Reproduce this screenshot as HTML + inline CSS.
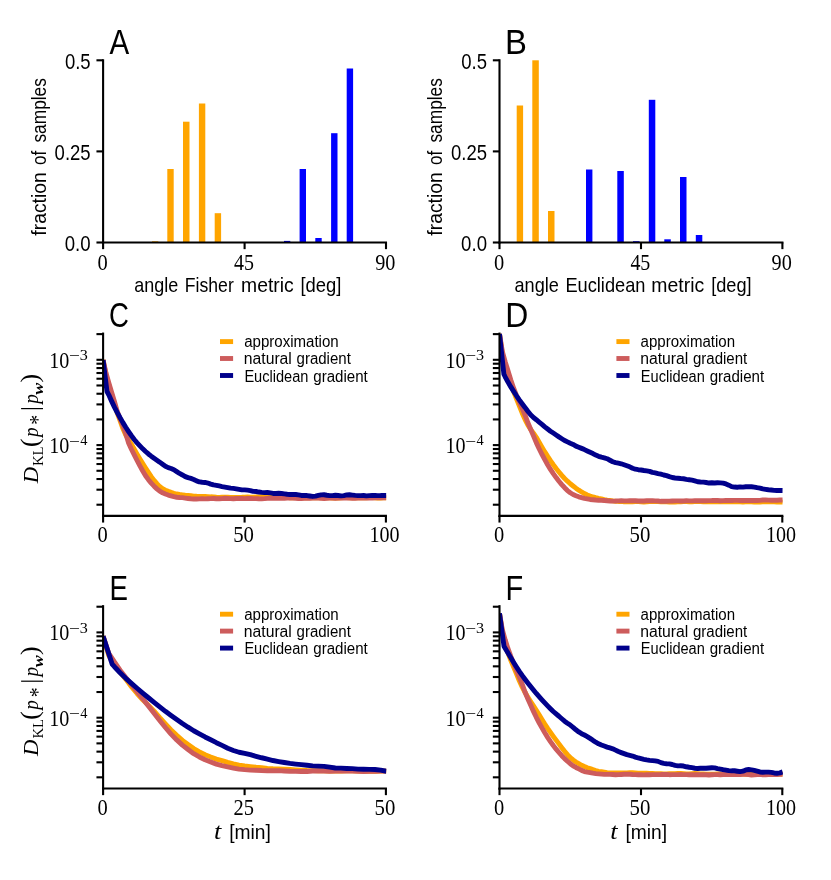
<!DOCTYPE html>
<html><head><meta charset="utf-8"><title>figure</title>
<style>
html,body{margin:0;padding:0;background:#fff;}
body{width:831px;height:880px;overflow:hidden;font-family:"Liberation Sans",sans-serif;}
svg{display:block;will-change:transform;}
text{fill:#000;}
</style></head>
<body>
<svg width="831" height="880" viewBox="0 0 831 880">
<rect x="0" y="0" width="831" height="880" fill="#fff"/>
<rect x="152" y="241.3" width="6.3" height="1.2" fill="#FFA500"/>
<rect x="167.3" y="169" width="6.4" height="73.5" fill="#FFA500"/>
<rect x="183" y="121.7" width="6.5" height="120.8" fill="#FFA500"/>
<rect x="198.9" y="103.5" width="6.4" height="139" fill="#FFA500"/>
<rect x="214.7" y="213.2" width="6.4" height="29.3" fill="#FFA500"/>
<rect x="284" y="240.9" width="6.3" height="1.6" fill="#0000FF"/>
<rect x="299.6" y="169" width="6.4" height="73.5" fill="#0000FF"/>
<rect x="315.3" y="238" width="6.4" height="4.5" fill="#0000FF"/>
<rect x="331.1" y="133.2" width="6.4" height="109.3" fill="#0000FF"/>
<rect x="346.7" y="68.5" width="6.4" height="174" fill="#0000FF"/>
<line x1="103.1" y1="59.25" x2="103.1" y2="243.55" stroke="#000" stroke-width="2.1" stroke-linecap="butt"/>
<line x1="102.05" y1="242.5" x2="387.05" y2="242.5" stroke="#000" stroke-width="2.1" stroke-linecap="butt"/>
<line x1="96.45" y1="242.5" x2="103.1" y2="242.5" stroke="#000" stroke-width="2.1" stroke-linecap="butt"/>
<line x1="96.45" y1="151.4" x2="103.1" y2="151.4" stroke="#000" stroke-width="2.1" stroke-linecap="butt"/>
<line x1="96.45" y1="60.3" x2="103.1" y2="60.3" stroke="#000" stroke-width="2.1" stroke-linecap="butt"/>
<line x1="103.1" y1="242.5" x2="103.1" y2="249.15" stroke="#000" stroke-width="2.1" stroke-linecap="butt"/>
<line x1="244.6" y1="242.5" x2="244.6" y2="249.15" stroke="#000" stroke-width="2.1" stroke-linecap="butt"/>
<line x1="386" y1="242.5" x2="386" y2="249.15" stroke="#000" stroke-width="2.1" stroke-linecap="butt"/>
<text x="64.91" y="68.8" font-family='"Liberation Sans", sans-serif' font-size="22" textLength="25.74" lengthAdjust="spacingAndGlyphs"  >0.5</text>
<text x="54.61" y="159.7" font-family='"Liberation Sans", sans-serif' font-size="22" textLength="36.06" lengthAdjust="spacingAndGlyphs"  >0.25</text>
<text x="64.7" y="251" font-family='"Liberation Sans", sans-serif' font-size="22" textLength="25.9" lengthAdjust="spacingAndGlyphs"  >0.0</text>
<text x="97.53" y="269.7" font-family='"Liberation Serif", serif' font-size="22.8" textLength="10.24" lengthAdjust="spacingAndGlyphs"  >0</text>
<text x="234" y="269.7" font-family='"Liberation Serif", serif' font-size="22.8" textLength="19.95" lengthAdjust="spacingAndGlyphs"  >45</text>
<text x="375.14" y="269.7" font-family='"Liberation Serif", serif' font-size="22.8" textLength="20.22" lengthAdjust="spacingAndGlyphs"  >90</text>
<text x="134.24" y="292.3" font-family='"Liberation Sans", sans-serif' font-size="21" textLength="43.96" lengthAdjust="spacingAndGlyphs"  >angle</text>
<text x="184.85" y="292.3" font-family='"Liberation Sans", sans-serif' font-size="21" textLength="48.93" lengthAdjust="spacingAndGlyphs"  >Fisher</text>
<text x="241.04" y="292.3" font-family='"Liberation Sans", sans-serif' font-size="21" textLength="52.63" lengthAdjust="spacingAndGlyphs"  >metric</text>
<text x="300.51" y="292.3" font-family='"Liberation Sans", sans-serif' font-size="21" textLength="40.96" lengthAdjust="spacingAndGlyphs"  >[deg]</text>
<g transform="translate(46.2,235.4) rotate(-90)">
<text x="-0.24" y="0" font-family='"Liberation Sans", sans-serif' font-size="21" textLength="63.39" lengthAdjust="spacingAndGlyphs"  >fraction</text>
<text x="70.38" y="0" font-family='"Liberation Sans", sans-serif' font-size="21" textLength="14.21" lengthAdjust="spacingAndGlyphs"  >of</text>
<text x="92.82" y="0" font-family='"Liberation Sans", sans-serif' font-size="21" textLength="64.5" lengthAdjust="spacingAndGlyphs"  >samples</text>
</g>
<text x="109.53" y="54" font-family='"Liberation Sans", sans-serif' font-size="34.4" textLength="19.73" lengthAdjust="spacingAndGlyphs"  >A</text>
<rect x="516.7" y="105.5" width="6.4" height="137" fill="#FFA500"/>
<rect x="532.3" y="60.3" width="6.5" height="182.2" fill="#FFA500"/>
<rect x="548" y="211" width="6.5" height="31.5" fill="#FFA500"/>
<rect x="586" y="169.5" width="6.4" height="73" fill="#0000FF"/>
<rect x="617.3" y="171" width="6.5" height="71.5" fill="#0000FF"/>
<rect x="633" y="241.2" width="6.5" height="1.3" fill="#0000FF"/>
<rect x="648.8" y="99.8" width="6.5" height="142.7" fill="#0000FF"/>
<rect x="664.3" y="239.3" width="6.5" height="3.2" fill="#0000FF"/>
<rect x="680" y="177" width="6.5" height="65.5" fill="#0000FF"/>
<rect x="695.8" y="235" width="6.5" height="7.5" fill="#0000FF"/>
<line x1="499.5" y1="59.25" x2="499.5" y2="243.55" stroke="#000" stroke-width="2.1" stroke-linecap="butt"/>
<line x1="498.45" y1="242.5" x2="783.45" y2="242.5" stroke="#000" stroke-width="2.1" stroke-linecap="butt"/>
<line x1="492.85" y1="242.5" x2="499.5" y2="242.5" stroke="#000" stroke-width="2.1" stroke-linecap="butt"/>
<line x1="492.85" y1="151.4" x2="499.5" y2="151.4" stroke="#000" stroke-width="2.1" stroke-linecap="butt"/>
<line x1="492.85" y1="60.3" x2="499.5" y2="60.3" stroke="#000" stroke-width="2.1" stroke-linecap="butt"/>
<line x1="499.5" y1="242.5" x2="499.5" y2="249.15" stroke="#000" stroke-width="2.1" stroke-linecap="butt"/>
<line x1="641" y1="242.5" x2="641" y2="249.15" stroke="#000" stroke-width="2.1" stroke-linecap="butt"/>
<line x1="782.4" y1="242.5" x2="782.4" y2="249.15" stroke="#000" stroke-width="2.1" stroke-linecap="butt"/>
<text x="461.31" y="68.8" font-family='"Liberation Sans", sans-serif' font-size="22" textLength="25.74" lengthAdjust="spacingAndGlyphs"  >0.5</text>
<text x="451.01" y="159.7" font-family='"Liberation Sans", sans-serif' font-size="22" textLength="36.06" lengthAdjust="spacingAndGlyphs"  >0.25</text>
<text x="461.1" y="251" font-family='"Liberation Sans", sans-serif' font-size="22" textLength="25.9" lengthAdjust="spacingAndGlyphs"  >0.0</text>
<text x="493.93" y="269.7" font-family='"Liberation Serif", serif' font-size="22.8" textLength="10.24" lengthAdjust="spacingAndGlyphs"  >0</text>
<text x="630.4" y="269.7" font-family='"Liberation Serif", serif' font-size="22.8" textLength="19.95" lengthAdjust="spacingAndGlyphs"  >45</text>
<text x="771.54" y="269.7" font-family='"Liberation Serif", serif' font-size="22.8" textLength="20.22" lengthAdjust="spacingAndGlyphs"  >90</text>
<text x="514.53" y="292.3" font-family='"Liberation Sans", sans-serif' font-size="21" textLength="44.38" lengthAdjust="spacingAndGlyphs"  >angle</text>
<text x="565.4" y="292.3" font-family='"Liberation Sans", sans-serif' font-size="21" textLength="80.08" lengthAdjust="spacingAndGlyphs"  >Euclidean</text>
<text x="651.34" y="292.3" font-family='"Liberation Sans", sans-serif' font-size="21" textLength="52.84" lengthAdjust="spacingAndGlyphs"  >metric</text>
<text x="711.13" y="292.3" font-family='"Liberation Sans", sans-serif' font-size="21" textLength="40.43" lengthAdjust="spacingAndGlyphs"  >[deg]</text>
<g transform="translate(442.2,235.4) rotate(-90)">
<text x="-0.24" y="0" font-family='"Liberation Sans", sans-serif' font-size="21" textLength="63.39" lengthAdjust="spacingAndGlyphs"  >fraction</text>
<text x="70.38" y="0" font-family='"Liberation Sans", sans-serif' font-size="21" textLength="14.21" lengthAdjust="spacingAndGlyphs"  >of</text>
<text x="92.82" y="0" font-family='"Liberation Sans", sans-serif' font-size="21" textLength="64.5" lengthAdjust="spacingAndGlyphs"  >samples</text>
</g>
<text x="504.99" y="54" font-family='"Liberation Sans", sans-serif' font-size="34.4" textLength="21.92" lengthAdjust="spacingAndGlyphs"  >B</text>
<clipPath id="clipC"><rect x="103.1" y="332.6" width="283.4" height="183.3"/></clipPath>
<g clip-path="url(#clipC)">
<path d="M103.1,360 L105.93,374.76 L108.76,385.07 L111.6,394.48 L114.43,403.86 L117.26,413.16 L120.09,420.77 L122.92,428.59 L125.76,434.89 L128.59,439.62 L131.42,444.28 L134.25,449.27 L137.08,454.22 L139.92,458.98 L142.75,463.61 L145.58,468.05 L148.41,472.43 L151.24,476.63 L154.08,480.4 L156.91,483.71 L159.74,486.62 L162.57,488.63 L165.4,490.16 L168.24,491.36 L171.07,492.4 L173.9,493.35 L176.73,494.02 L179.56,494.48 L182.4,494.87 L185.23,495.22 L188.06,495.47 L190.89,495.72 L193.72,496.09 L196.56,496.31 L199.39,496.46 L202.22,496.34 L205.05,496.49 L207.88,496.63 L210.72,496.82 L213.55,496.86 L216.38,497.17 L219.21,497.36 L222.04,497.21 L224.88,497.11 L227.71,497.17 L230.54,497.39 L233.37,497.48 L236.2,497.45 L239.04,497.37 L241.87,497.28 L244.7,497.1 L247.53,496.99 L250.36,497.09 L253.2,497.13 L256.03,496.96 L258.86,496.9 L261.69,496.72 L264.52,496.8 L267.36,496.97 L270.19,497.1 L273.02,497.04 L275.85,497.04 L278.68,497.32 L281.52,497.25 L284.35,497.25 L287.18,497.36 L290.01,497.79 L292.84,497.74 L295.68,497.56 L298.51,497.56 L301.34,497.74 L304.17,497.91 L307,497.83 L309.84,497.83 L312.67,497.63 L315.5,497.83 L318.33,497.88 L321.16,497.9 L324,497.59 L326.83,497.71 L329.66,497.92 L332.49,498.13 L335.32,498.08 L338.16,498.05 L340.99,497.89 L343.82,497.67 L346.65,497.56 L349.48,497.75 L352.32,497.76 L355.15,497.69 L357.98,497.55 L360.81,497.72 L363.64,497.85 L366.48,497.78 L369.31,497.53 L372.14,497.46 L374.97,497.75 L377.8,498.03 L380.64,498.03 L383.47,497.87 L386.3,497.78" fill="none" stroke="#FFA500" stroke-width="4.9" stroke-linejoin="round" stroke-linecap="butt"/>
<path d="M103.1,360 L105.93,372.75 L108.76,382.77 L111.6,392.16 L114.43,401.5 L117.26,411.31 L120.09,418.77 L122.92,425.54 L125.76,433.49 L128.59,443.03 L131.42,449.26 L134.25,454.82 L137.08,460.51 L139.92,465.93 L142.75,471.02 L145.58,475.75 L148.41,479.69 L151.24,483.16 L154.08,486.16 L156.91,488.87 L159.74,491.19 L162.57,492.81 L165.4,494.05 L168.24,495.05 L171.07,495.9 L173.9,496.7 L176.73,497.27 L179.56,497.53 L182.4,497.67 L185.23,498.09 L188.06,498.46 L190.89,498.8 L193.72,498.94 L196.56,499 L199.39,498.91 L202.22,498.82 L205.05,498.85 L207.88,498.72 L210.72,498.6 L213.55,498.53 L216.38,498.8 L219.21,498.79 L222.04,498.57 L224.88,498.31 L227.71,498.48 L230.54,498.6 L233.37,498.73 L236.2,498.49 L239.04,498.51 L241.87,498.56 L244.7,498.59 L247.53,498.41 L250.36,498.47 L253.2,498.64 L256.03,498.67 L258.86,498.8 L261.69,498.85 L264.52,498.65 L267.36,498.32 L270.19,498.34 L273.02,498.38 L275.85,498.4 L278.68,498.32 L281.52,498.39 L284.35,498.32 L287.18,498.12 L290.01,497.8 L292.84,497.98 L295.68,498.24 L298.51,498.57 L301.34,498.49 L304.17,498.36 L307,498.22 L309.84,498.25 L312.67,498.17 L315.5,497.99 L318.33,498.17 L321.16,498.4 L324,498.47 L326.83,498.26 L329.66,498.13 L332.49,498.15 L335.32,498.21 L338.16,498.16 L340.99,498.03 L343.82,497.97 L346.65,498.02 L349.48,498.17 L352.32,498.2 L355.15,498.24 L357.98,498.13 L360.81,498.15 L363.64,497.95 L366.48,497.95 L369.31,497.95 L372.14,497.99 L374.97,497.92 L377.8,497.83 L380.64,497.79 L383.47,497.69 L386.3,497.72" fill="none" stroke="#CD5C5C" stroke-width="4.9" stroke-linejoin="round" stroke-linecap="butt"/>
<path d="M103.1,360 L107,391.5 L108.76,394.83 L111.6,401.13 L114.43,407.09 L117.26,412.64 L120.09,417.77 L122.92,422.62 L125.76,427.23 L128.59,431.56 L131.42,435.7 L134.25,439.52 L137.08,442.88 L139.92,445.93 L142.75,448.84 L145.58,451.52 L148.41,453.97 L151.24,456.14 L154.08,458.17 L156.91,460.15 L159.74,462.14 L162.57,464.23 L165.4,466.25 L168.24,467.6 L171.07,468.49 L173.9,469.73 L176.73,471.59 L179.56,473.44 L182.4,474.97 L185.23,476.61 L188.06,477.65 L190.89,478.42 L193.72,479.45 L196.56,480.9 L199.39,481.93 L202.22,482.25 L205.05,482.47 L207.88,483.05 L210.72,484.09 L213.55,484.94 L216.38,485.36 L219.21,485.97 L222.04,486.58 L224.88,487.08 L227.71,487.57 L230.54,488.17 L233.37,488.43 L236.2,488.82 L239.04,489.37 L241.87,489.88 L244.7,489.87 L247.53,490.16 L250.36,490.57 L253.2,491.34 L256.03,491.51 L258.86,492.06 L261.69,492.36 L264.52,492.59 L267.36,492.53 L270.19,492.87 L273.02,493.43 L275.85,493.49 L278.68,493.31 L281.52,493.45 L284.35,493.83 L287.18,494.23 L290.01,494.55 L292.84,494.49 L295.68,494.47 L298.51,494.88 L301.34,495.45 L304.17,495.39 L307,495.55 L309.84,496.01 L312.67,496.43 L315.5,496.12 L318.33,495.41 L321.16,494.85 L324,494.77 L326.83,495.26 L329.66,495.62 L332.49,495.59 L335.32,495.25 L338.16,495.48 L340.99,495.92 L343.82,495.64 L346.65,494.97 L349.48,494.76 L352.32,495.08 L355.15,495.42 L357.98,495.61 L360.81,495.65 L363.64,495.53 L366.48,495.84 L369.31,495.61 L372.14,495.51 L374.97,495.48 L377.8,495.65 L380.64,495.57 L383.47,495.42 L386.3,495.48" fill="none" stroke="#00008B" stroke-width="4.9" stroke-linejoin="round" stroke-linecap="butt"/>
</g>
<line x1="103.1" y1="332.55" x2="103.1" y2="516.95" stroke="#000" stroke-width="2.1" stroke-linecap="butt"/>
<line x1="102.05" y1="515.9" x2="386.95" y2="515.9" stroke="#000" stroke-width="2.1" stroke-linecap="butt"/>
<line x1="96.45" y1="359.8" x2="103.1" y2="359.8" stroke="#000" stroke-width="2.1" stroke-linecap="butt"/>
<line x1="96.45" y1="334.12" x2="103.1" y2="334.12" stroke="#000" stroke-width="2.1" stroke-linecap="butt"/>
<line x1="96.45" y1="445.1" x2="103.1" y2="445.1" stroke="#000" stroke-width="2.1" stroke-linecap="butt"/>
<line x1="96.45" y1="419.42" x2="103.1" y2="419.42" stroke="#000" stroke-width="2.1" stroke-linecap="butt"/>
<line x1="96.45" y1="404.4" x2="103.1" y2="404.4" stroke="#000" stroke-width="2.1" stroke-linecap="butt"/>
<line x1="96.45" y1="393.74" x2="103.1" y2="393.74" stroke="#000" stroke-width="2.1" stroke-linecap="butt"/>
<line x1="96.45" y1="385.48" x2="103.1" y2="385.48" stroke="#000" stroke-width="2.1" stroke-linecap="butt"/>
<line x1="96.45" y1="378.72" x2="103.1" y2="378.72" stroke="#000" stroke-width="2.1" stroke-linecap="butt"/>
<line x1="96.45" y1="373.01" x2="103.1" y2="373.01" stroke="#000" stroke-width="2.1" stroke-linecap="butt"/>
<line x1="96.45" y1="368.07" x2="103.1" y2="368.07" stroke="#000" stroke-width="2.1" stroke-linecap="butt"/>
<line x1="96.45" y1="363.7" x2="103.1" y2="363.7" stroke="#000" stroke-width="2.1" stroke-linecap="butt"/>
<line x1="96.45" y1="504.72" x2="103.1" y2="504.72" stroke="#000" stroke-width="2.1" stroke-linecap="butt"/>
<line x1="96.45" y1="489.7" x2="103.1" y2="489.7" stroke="#000" stroke-width="2.1" stroke-linecap="butt"/>
<line x1="96.45" y1="479.04" x2="103.1" y2="479.04" stroke="#000" stroke-width="2.1" stroke-linecap="butt"/>
<line x1="96.45" y1="470.78" x2="103.1" y2="470.78" stroke="#000" stroke-width="2.1" stroke-linecap="butt"/>
<line x1="96.45" y1="464.02" x2="103.1" y2="464.02" stroke="#000" stroke-width="2.1" stroke-linecap="butt"/>
<line x1="96.45" y1="458.31" x2="103.1" y2="458.31" stroke="#000" stroke-width="2.1" stroke-linecap="butt"/>
<line x1="96.45" y1="453.37" x2="103.1" y2="453.37" stroke="#000" stroke-width="2.1" stroke-linecap="butt"/>
<line x1="96.45" y1="449" x2="103.1" y2="449" stroke="#000" stroke-width="2.1" stroke-linecap="butt"/>
<line x1="103.1" y1="515.9" x2="103.1" y2="522.55" stroke="#000" stroke-width="2.1" stroke-linecap="butt"/>
<line x1="244.6" y1="515.9" x2="244.6" y2="522.55" stroke="#000" stroke-width="2.1" stroke-linecap="butt"/>
<line x1="385.9" y1="515.9" x2="385.9" y2="522.55" stroke="#000" stroke-width="2.1" stroke-linecap="butt"/>
<text x="49.14" y="367.7" font-family='"Liberation Serif", serif' font-size="22.8" textLength="20.11" lengthAdjust="spacingAndGlyphs"  >10</text>
<text x="68.93" y="361.4" font-family='"Liberation Serif", serif' font-size="15.5" textLength="10.92" lengthAdjust="spacingAndGlyphs"  >&#8722;</text>
<text x="79.73" y="359.9" font-family='"Liberation Serif", serif' font-size="15.5" textLength="8.07" lengthAdjust="spacingAndGlyphs"  >3</text>
<text x="49.14" y="453" font-family='"Liberation Serif", serif' font-size="22.8" textLength="20.11" lengthAdjust="spacingAndGlyphs"  >10</text>
<text x="68.93" y="446.7" font-family='"Liberation Serif", serif' font-size="15.5" textLength="10.92" lengthAdjust="spacingAndGlyphs"  >&#8722;</text>
<text x="80.21" y="445.2" font-family='"Liberation Serif", serif' font-size="15.5" textLength="7.2" lengthAdjust="spacingAndGlyphs"  >4</text>
<text x="97.53" y="542.3" font-family='"Liberation Serif", serif' font-size="22.8" textLength="10.24" lengthAdjust="spacingAndGlyphs"  >0</text>
<text x="233.21" y="542.3" font-family='"Liberation Serif", serif' font-size="22.8" textLength="20.77" lengthAdjust="spacingAndGlyphs"  >50</text>
<text x="369.54" y="542.3" font-family='"Liberation Serif", serif' font-size="22.8" textLength="30.11" lengthAdjust="spacingAndGlyphs"  >100</text>
<line x1="220" y1="341.6" x2="233.1" y2="341.6" stroke="#FFA500" stroke-width="4.9" stroke-linecap="butt"/>
<text x="244.16" y="347.2" font-family='"Liberation Sans", sans-serif' font-size="16" textLength="94.5" lengthAdjust="spacingAndGlyphs"  >approximation</text>
<line x1="220" y1="358.5" x2="233.1" y2="358.5" stroke="#CD5C5C" stroke-width="4.9" stroke-linecap="butt"/>
<text x="243.78" y="364.3" font-family='"Liberation Sans", sans-serif' font-size="16" textLength="48.09" lengthAdjust="spacingAndGlyphs"  >natural</text>
<text x="296.56" y="364.3" font-family='"Liberation Sans", sans-serif' font-size="16" textLength="54.27" lengthAdjust="spacingAndGlyphs"  >gradient</text>
<line x1="220" y1="375.5" x2="233.1" y2="375.5" stroke="#00008B" stroke-width="4.9" stroke-linecap="butt"/>
<text x="244.4" y="381.5" font-family='"Liberation Sans", sans-serif' font-size="16" textLength="64.05" lengthAdjust="spacingAndGlyphs"  >Euclidean</text>
<text x="313.26" y="381.5" font-family='"Liberation Sans", sans-serif' font-size="16" textLength="54.47" lengthAdjust="spacingAndGlyphs"  >gradient</text>
<text x="109.02" y="327.3" font-family='"Liberation Sans", sans-serif' font-size="34.4" textLength="19.9" lengthAdjust="spacingAndGlyphs"  >C</text>
<g transform="translate(38.2,483.6) rotate(-90)">
<text x="0.28" y="0" font-family='"Liberation Serif", serif' font-size="22" textLength="16.35" lengthAdjust="spacingAndGlyphs" font-style="italic" >D</text>
<text x="17.59" y="5" font-family='"Liberation Serif", serif' font-size="14.5" textLength="19.66" lengthAdjust="spacingAndGlyphs"  >KL</text>
<text x="36.52" y="0" font-family='"Liberation Serif", serif' font-size="24.5" textLength="8.45" lengthAdjust="spacingAndGlyphs"  >(</text>
<text x="46.55" y="0" font-family='"Liberation Serif", serif' font-size="22" textLength="9.62" lengthAdjust="spacingAndGlyphs" font-style="italic" >p</text>
<text x="58.91" y="7.2" font-family='"Liberation Serif", serif' font-size="24" textLength="9.94" lengthAdjust="spacingAndGlyphs"  >*</text>
<rect x="74.4" y="-17.1" width="1.2" height="21.9" fill="#000"/>
<text x="79.75" y="0" font-family='"Liberation Serif", serif' font-size="22" textLength="9.62" lengthAdjust="spacingAndGlyphs" font-style="italic" >p</text>
<text x="88.9" y="4.6" font-family='"Liberation Serif", serif' font-size="15" textLength="12.05" lengthAdjust="spacingAndGlyphs" font-style="italic" font-weight="bold" >w</text>
<text x="101.17" y="0" font-family='"Liberation Serif", serif' font-size="24.5" textLength="8.54" lengthAdjust="spacingAndGlyphs"  >)</text>
</g>
<clipPath id="clipD"><rect x="499.5" y="332.6" width="283.4" height="183.3"/></clipPath>
<g clip-path="url(#clipD)">
<path d="M499.5,334 L502.33,353.61 L505.16,365.73 L507.99,375.81 L510.82,384.22 L513.65,391.65 L516.49,398.72 L519.32,405.83 L522.15,412.94 L524.98,419.34 L527.81,424.99 L530.64,429.35 L533.47,433.13 L536.3,437.28 L539.13,442.17 L541.97,447.11 L544.8,451.89 L547.63,456.42 L550.46,460.7 L553.29,464.75 L556.12,468.55 L558.95,472.01 L561.78,475.4 L564.61,478.48 L567.44,481.19 L570.27,483.71 L573.11,485.97 L575.94,488.15 L578.77,490.15 L581.6,491.98 L584.43,493.55 L587.26,494.94 L590.09,496 L592.92,496.98 L595.75,497.71 L598.59,498.37 L601.42,498.86 L604.25,499.55 L607.08,500.14 L609.91,500.52 L612.74,500.93 L615.57,501.23 L618.4,501.43 L621.23,501.43 L624.06,501.73 L626.89,501.82 L629.73,501.84 L632.56,501.76 L635.39,501.65 L638.22,501.64 L641.05,501.82 L643.88,501.97 L646.71,501.86 L649.54,501.63 L652.37,501.46 L655.21,501.42 L658.04,501.66 L660.87,501.8 L663.7,501.83 L666.53,501.89 L669.36,501.96 L672.19,501.96 L675.02,502.02 L677.85,501.92 L680.68,501.85 L683.51,501.59 L686.35,501.67 L689.18,501.69 L692.01,501.82 L694.84,501.65 L697.67,501.6 L700.5,501.65 L703.33,501.75 L706.16,501.69 L708.99,501.75 L711.83,501.69 L714.66,501.7 L717.49,501.64 L720.32,501.86 L723.15,501.8 L725.98,501.72 L728.81,501.75 L731.64,501.88 L734.47,501.75 L737.3,501.65 L740.13,501.75 L742.97,501.93 L745.8,501.86 L748.63,501.86 L751.46,501.89 L754.29,502.1 L757.12,502 L759.95,502.01 L762.78,501.92 L765.61,501.81 L768.45,501.57 L771.28,501.7 L774.11,501.86 L776.94,501.99 L779.77,502.06 L782.6,502.11" fill="none" stroke="#FFA500" stroke-width="4.9" stroke-linejoin="round" stroke-linecap="butt"/>
<path d="M499.5,334 L502.33,351.51 L505.16,361.74 L507.99,370.8 L510.82,380.02 L513.65,388.21 L516.49,395.39 L519.32,402 L522.15,408.31 L524.98,414.96 L527.81,422.55 L530.64,429.18 L533.47,435.84 L536.3,442.62 L539.13,448.76 L541.97,454.37 L544.8,459.67 L547.63,464.76 L550.46,469.43 L553.29,473.66 L556.12,477.6 L558.95,481.23 L561.78,484.56 L564.61,487.72 L567.44,490.59 L570.27,492.77 L573.11,494.49 L575.94,495.7 L578.77,496.78 L581.6,497.57 L584.43,498.31 L587.26,498.91 L590.09,499.45 L592.92,499.75 L595.75,500.02 L598.59,500.2 L601.42,500.33 L604.25,500.54 L607.08,500.71 L609.91,500.98 L612.74,501.11 L615.57,501.01 L618.4,500.83 L621.23,500.73 L624.06,500.87 L626.89,500.88 L629.73,500.78 L632.56,500.68 L635.39,500.7 L638.22,500.97 L641.05,500.91 L643.88,500.93 L646.71,500.78 L649.54,500.8 L652.37,500.67 L655.21,500.89 L658.04,501.04 L660.87,501.32 L663.7,501.3 L666.53,501.27 L669.36,501.11 L672.19,500.99 L675.02,500.85 L677.85,500.91 L680.68,500.97 L683.51,500.94 L686.35,500.82 L689.18,500.9 L692.01,500.86 L694.84,500.81 L697.67,500.78 L700.5,500.82 L703.33,500.74 L706.16,500.76 L708.99,500.67 L711.83,500.56 L714.66,500.34 L717.49,500.54 L720.32,500.68 L723.15,500.65 L725.98,500.41 L728.81,500.47 L731.64,500.49 L734.47,500.41 L737.3,500.4 L740.13,500.43 L742.97,500.44 L745.8,500.39 L748.63,500.45 L751.46,500.43 L754.29,500.55 L757.12,500.56 L759.95,500.36 L762.78,500.01 L765.61,499.99 L768.45,500.11 L771.28,500.28 L774.11,500.24 L776.94,500.18 L779.77,500.05 L782.6,500.06" fill="none" stroke="#CD5C5C" stroke-width="4.9" stroke-linejoin="round" stroke-linecap="butt"/>
<path d="M499.5,334 L503.9,374.2 L505.16,376.78 L507.99,382.09 L510.82,386.88 L513.65,391.41 L516.49,395.78 L519.32,399.87 L522.15,403.71 L524.98,407.41 L527.81,411.29 L530.64,414.81 L533.47,417.54 L536.3,419.73 L539.13,422.07 L541.97,424.37 L544.8,426.82 L547.63,429.01 L550.46,431.21 L553.29,433.06 L556.12,434.94 L558.95,436.88 L561.78,438.7 L564.61,440.56 L567.44,441.91 L570.27,443.24 L573.11,444.4 L575.94,446.09 L578.77,447.18 L581.6,448.38 L584.43,449.61 L587.26,450.95 L590.09,452.25 L592.92,453.53 L595.75,455.1 L598.59,456.29 L601.42,457.18 L604.25,457.81 L607.08,458.72 L609.91,460.26 L612.74,461.74 L615.57,462.64 L618.4,463.2 L621.23,463.79 L624.06,464.71 L626.89,465.72 L629.73,466.81 L632.56,468.28 L635.39,469.21 L638.22,469.71 L641.05,469.99 L643.88,470.49 L646.71,470.9 L649.54,471.4 L652.37,472.39 L655.21,472.84 L658.04,473.59 L660.87,474.17 L663.7,475.01 L666.53,475.64 L669.36,476.63 L672.19,477.5 L675.02,477.99 L677.85,478.28 L680.68,478.55 L683.51,478.74 L686.35,479.35 L689.18,479.77 L692.01,480.15 L694.84,480.88 L697.67,481.77 L700.5,482 L703.33,482.14 L706.16,482.52 L708.99,483.04 L711.83,482.79 L714.66,482.97 L717.49,482.77 L720.32,482.83 L723.15,483.09 L725.98,483.95 L728.81,485.17 L731.64,486.58 L734.47,487.05 L737.3,487.23 L740.13,486.93 L742.97,487.15 L745.8,486.77 L748.63,486.63 L751.46,486.7 L754.29,487.09 L757.12,487.69 L759.95,488.12 L762.78,488.9 L765.61,489.36 L768.45,489.76 L771.28,490.01 L774.11,490.4 L776.94,490.53 L779.77,490.42 L782.6,490.47" fill="none" stroke="#00008B" stroke-width="4.9" stroke-linejoin="round" stroke-linecap="butt"/>
</g>
<line x1="499.5" y1="332.55" x2="499.5" y2="516.95" stroke="#000" stroke-width="2.1" stroke-linecap="butt"/>
<line x1="498.45" y1="515.9" x2="783.35" y2="515.9" stroke="#000" stroke-width="2.1" stroke-linecap="butt"/>
<line x1="492.85" y1="359.8" x2="499.5" y2="359.8" stroke="#000" stroke-width="2.1" stroke-linecap="butt"/>
<line x1="492.85" y1="334.12" x2="499.5" y2="334.12" stroke="#000" stroke-width="2.1" stroke-linecap="butt"/>
<line x1="492.85" y1="445.1" x2="499.5" y2="445.1" stroke="#000" stroke-width="2.1" stroke-linecap="butt"/>
<line x1="492.85" y1="419.42" x2="499.5" y2="419.42" stroke="#000" stroke-width="2.1" stroke-linecap="butt"/>
<line x1="492.85" y1="404.4" x2="499.5" y2="404.4" stroke="#000" stroke-width="2.1" stroke-linecap="butt"/>
<line x1="492.85" y1="393.74" x2="499.5" y2="393.74" stroke="#000" stroke-width="2.1" stroke-linecap="butt"/>
<line x1="492.85" y1="385.48" x2="499.5" y2="385.48" stroke="#000" stroke-width="2.1" stroke-linecap="butt"/>
<line x1="492.85" y1="378.72" x2="499.5" y2="378.72" stroke="#000" stroke-width="2.1" stroke-linecap="butt"/>
<line x1="492.85" y1="373.01" x2="499.5" y2="373.01" stroke="#000" stroke-width="2.1" stroke-linecap="butt"/>
<line x1="492.85" y1="368.07" x2="499.5" y2="368.07" stroke="#000" stroke-width="2.1" stroke-linecap="butt"/>
<line x1="492.85" y1="363.7" x2="499.5" y2="363.7" stroke="#000" stroke-width="2.1" stroke-linecap="butt"/>
<line x1="492.85" y1="504.72" x2="499.5" y2="504.72" stroke="#000" stroke-width="2.1" stroke-linecap="butt"/>
<line x1="492.85" y1="489.7" x2="499.5" y2="489.7" stroke="#000" stroke-width="2.1" stroke-linecap="butt"/>
<line x1="492.85" y1="479.04" x2="499.5" y2="479.04" stroke="#000" stroke-width="2.1" stroke-linecap="butt"/>
<line x1="492.85" y1="470.78" x2="499.5" y2="470.78" stroke="#000" stroke-width="2.1" stroke-linecap="butt"/>
<line x1="492.85" y1="464.02" x2="499.5" y2="464.02" stroke="#000" stroke-width="2.1" stroke-linecap="butt"/>
<line x1="492.85" y1="458.31" x2="499.5" y2="458.31" stroke="#000" stroke-width="2.1" stroke-linecap="butt"/>
<line x1="492.85" y1="453.37" x2="499.5" y2="453.37" stroke="#000" stroke-width="2.1" stroke-linecap="butt"/>
<line x1="492.85" y1="449" x2="499.5" y2="449" stroke="#000" stroke-width="2.1" stroke-linecap="butt"/>
<line x1="499.5" y1="515.9" x2="499.5" y2="522.55" stroke="#000" stroke-width="2.1" stroke-linecap="butt"/>
<line x1="641" y1="515.9" x2="641" y2="522.55" stroke="#000" stroke-width="2.1" stroke-linecap="butt"/>
<line x1="782.3" y1="515.9" x2="782.3" y2="522.55" stroke="#000" stroke-width="2.1" stroke-linecap="butt"/>
<text x="445.54" y="367.7" font-family='"Liberation Serif", serif' font-size="22.8" textLength="20.11" lengthAdjust="spacingAndGlyphs"  >10</text>
<text x="465.33" y="361.4" font-family='"Liberation Serif", serif' font-size="15.5" textLength="10.92" lengthAdjust="spacingAndGlyphs"  >&#8722;</text>
<text x="476.13" y="359.9" font-family='"Liberation Serif", serif' font-size="15.5" textLength="8.07" lengthAdjust="spacingAndGlyphs"  >3</text>
<text x="445.54" y="453" font-family='"Liberation Serif", serif' font-size="22.8" textLength="20.11" lengthAdjust="spacingAndGlyphs"  >10</text>
<text x="465.33" y="446.7" font-family='"Liberation Serif", serif' font-size="15.5" textLength="10.92" lengthAdjust="spacingAndGlyphs"  >&#8722;</text>
<text x="476.61" y="445.2" font-family='"Liberation Serif", serif' font-size="15.5" textLength="7.2" lengthAdjust="spacingAndGlyphs"  >4</text>
<text x="493.93" y="542.3" font-family='"Liberation Serif", serif' font-size="22.8" textLength="10.24" lengthAdjust="spacingAndGlyphs"  >0</text>
<text x="629.61" y="542.3" font-family='"Liberation Serif", serif' font-size="22.8" textLength="20.77" lengthAdjust="spacingAndGlyphs"  >50</text>
<text x="765.94" y="542.3" font-family='"Liberation Serif", serif' font-size="22.8" textLength="30.11" lengthAdjust="spacingAndGlyphs"  >100</text>
<line x1="616.4" y1="341.6" x2="629.5" y2="341.6" stroke="#FFA500" stroke-width="4.9" stroke-linecap="butt"/>
<text x="640.56" y="347.2" font-family='"Liberation Sans", sans-serif' font-size="16" textLength="94.5" lengthAdjust="spacingAndGlyphs"  >approximation</text>
<line x1="616.4" y1="358.5" x2="629.5" y2="358.5" stroke="#CD5C5C" stroke-width="4.9" stroke-linecap="butt"/>
<text x="640.18" y="364.3" font-family='"Liberation Sans", sans-serif' font-size="16" textLength="48.09" lengthAdjust="spacingAndGlyphs"  >natural</text>
<text x="692.96" y="364.3" font-family='"Liberation Sans", sans-serif' font-size="16" textLength="54.27" lengthAdjust="spacingAndGlyphs"  >gradient</text>
<line x1="616.4" y1="375.5" x2="629.5" y2="375.5" stroke="#00008B" stroke-width="4.9" stroke-linecap="butt"/>
<text x="640.8" y="381.5" font-family='"Liberation Sans", sans-serif' font-size="16" textLength="64.05" lengthAdjust="spacingAndGlyphs"  >Euclidean</text>
<text x="709.66" y="381.5" font-family='"Liberation Sans", sans-serif' font-size="16" textLength="54.47" lengthAdjust="spacingAndGlyphs"  >gradient</text>
<text x="505.27" y="327.1" font-family='"Liberation Sans", sans-serif' font-size="34.4" textLength="23.04" lengthAdjust="spacingAndGlyphs"  >D</text>
<clipPath id="clipE"><rect x="103.1" y="605.2" width="283.4" height="183.3"/></clipPath>
<g clip-path="url(#clipE)">
<path d="M103.1,636.3 L108.76,655.56 L114.43,665.37 L120.09,672.15 L125.76,679.08 L131.42,686.69 L137.08,693.52 L142.75,699.74 L148.41,705.35 L154.08,711.1 L159.74,717.62 L165.4,723.84 L171.07,729.9 L176.73,735.37 L182.4,740.39 L188.06,744.57 L193.72,748.51 L199.39,751.81 L205.05,754.79 L210.72,757.06 L216.38,759.1 L222.04,760.59 L227.71,762.36 L233.37,763.81 L239.04,765.07 L244.7,765.89 L250.36,766.56 L256.03,767.21 L261.69,767.68 L267.36,768.34 L273.02,768.72 L278.68,768.97 L284.35,769.15 L290.01,769.43 L295.68,769.86 L301.34,770.17 L307,770.52 L312.67,770.64 L318.33,770.73 L324,770.78 L329.66,770.97 L335.32,771.08 L340.99,771.03 L346.65,770.87 L352.32,770.91 L357.98,770.99 L363.64,771.28 L369.31,771.31 L374.97,771.2 L380.64,771.01 L386.3,771.16" fill="none" stroke="#FFA500" stroke-width="4.9" stroke-linejoin="round" stroke-linecap="butt"/>
<path d="M103.1,636.3 L108.76,653.3 L114.43,661.93 L120.09,670.14 L125.76,677.39 L131.42,684.48 L137.08,691.63 L142.75,698.81 L148.41,706.07 L154.08,713.34 L159.74,720.53 L165.4,727.5 L171.07,734.15 L176.73,739.93 L182.4,745.06 L188.06,749.53 L193.72,753.7 L199.39,756.95 L205.05,759.68 L210.72,761.95 L216.38,764.09 L222.04,765.61 L227.71,766.95 L233.37,768.08 L239.04,769.11 L244.7,769.68 L250.36,770.1 L256.03,770.23 L261.69,770.52 L267.36,770.68 L273.02,770.69 L278.68,770.58 L284.35,770.97 L290.01,771.25 L295.68,771.4 L301.34,771.5 L307,771.48 L312.67,771.03 L318.33,770.72 L324,770.97 L329.66,771.21 L335.32,771.13 L340.99,770.87 L346.65,770.96 L352.32,771.15 L357.98,771.37 L363.64,771.5 L369.31,771.42 L374.97,771.26 L380.64,771.08 L386.3,771.14" fill="none" stroke="#CD5C5C" stroke-width="4.9" stroke-linejoin="round" stroke-linecap="butt"/>
<path d="M103.1,636.3 L112.1,664.1 L114.43,666.73 L120.09,672.79 L125.76,678.33 L131.42,683.35 L137.08,688.26 L142.75,693.1 L148.41,697.76 L154.08,702.36 L159.74,706.94 L165.4,711.34 L171.07,715.42 L176.73,719.41 L182.4,723.42 L188.06,727.2 L193.72,730.74 L199.39,733.83 L205.05,736.96 L210.72,739.74 L216.38,742.67 L222.04,745.36 L227.71,748.2 L233.37,750.48 L239.04,752.27 L244.7,753.36 L250.36,754.72 L256.03,756.27 L261.69,757.76 L267.36,759.07 L273.02,760.51 L278.68,761.54 L284.35,762.52 L290.01,763.43 L295.68,764.07 L301.34,764.63 L307,765.28 L312.67,765.89 L318.33,766.12 L324,766.33 L329.66,767.19 L335.32,767.99 L340.99,768.16 L346.65,768.47 L352.32,768.66 L357.98,769.11 L363.64,769.26 L369.31,769.35 L374.97,769.48 L380.64,770.17 L386.3,771.23" fill="none" stroke="#00008B" stroke-width="4.9" stroke-linejoin="round" stroke-linecap="butt"/>
</g>
<line x1="103.1" y1="605.15" x2="103.1" y2="789.55" stroke="#000" stroke-width="2.1" stroke-linecap="butt"/>
<line x1="102.05" y1="788.5" x2="386.95" y2="788.5" stroke="#000" stroke-width="2.1" stroke-linecap="butt"/>
<line x1="96.45" y1="632.4" x2="103.1" y2="632.4" stroke="#000" stroke-width="2.1" stroke-linecap="butt"/>
<line x1="96.45" y1="606.72" x2="103.1" y2="606.72" stroke="#000" stroke-width="2.1" stroke-linecap="butt"/>
<line x1="96.45" y1="717.7" x2="103.1" y2="717.7" stroke="#000" stroke-width="2.1" stroke-linecap="butt"/>
<line x1="96.45" y1="692.02" x2="103.1" y2="692.02" stroke="#000" stroke-width="2.1" stroke-linecap="butt"/>
<line x1="96.45" y1="677" x2="103.1" y2="677" stroke="#000" stroke-width="2.1" stroke-linecap="butt"/>
<line x1="96.45" y1="666.34" x2="103.1" y2="666.34" stroke="#000" stroke-width="2.1" stroke-linecap="butt"/>
<line x1="96.45" y1="658.08" x2="103.1" y2="658.08" stroke="#000" stroke-width="2.1" stroke-linecap="butt"/>
<line x1="96.45" y1="651.32" x2="103.1" y2="651.32" stroke="#000" stroke-width="2.1" stroke-linecap="butt"/>
<line x1="96.45" y1="645.61" x2="103.1" y2="645.61" stroke="#000" stroke-width="2.1" stroke-linecap="butt"/>
<line x1="96.45" y1="640.67" x2="103.1" y2="640.67" stroke="#000" stroke-width="2.1" stroke-linecap="butt"/>
<line x1="96.45" y1="636.3" x2="103.1" y2="636.3" stroke="#000" stroke-width="2.1" stroke-linecap="butt"/>
<line x1="96.45" y1="777.32" x2="103.1" y2="777.32" stroke="#000" stroke-width="2.1" stroke-linecap="butt"/>
<line x1="96.45" y1="762.3" x2="103.1" y2="762.3" stroke="#000" stroke-width="2.1" stroke-linecap="butt"/>
<line x1="96.45" y1="751.64" x2="103.1" y2="751.64" stroke="#000" stroke-width="2.1" stroke-linecap="butt"/>
<line x1="96.45" y1="743.38" x2="103.1" y2="743.38" stroke="#000" stroke-width="2.1" stroke-linecap="butt"/>
<line x1="96.45" y1="736.62" x2="103.1" y2="736.62" stroke="#000" stroke-width="2.1" stroke-linecap="butt"/>
<line x1="96.45" y1="730.91" x2="103.1" y2="730.91" stroke="#000" stroke-width="2.1" stroke-linecap="butt"/>
<line x1="96.45" y1="725.97" x2="103.1" y2="725.97" stroke="#000" stroke-width="2.1" stroke-linecap="butt"/>
<line x1="96.45" y1="721.6" x2="103.1" y2="721.6" stroke="#000" stroke-width="2.1" stroke-linecap="butt"/>
<line x1="103.1" y1="788.5" x2="103.1" y2="795.15" stroke="#000" stroke-width="2.1" stroke-linecap="butt"/>
<line x1="244.6" y1="788.5" x2="244.6" y2="795.15" stroke="#000" stroke-width="2.1" stroke-linecap="butt"/>
<line x1="385.9" y1="788.5" x2="385.9" y2="795.15" stroke="#000" stroke-width="2.1" stroke-linecap="butt"/>
<text x="49.14" y="640.3" font-family='"Liberation Serif", serif' font-size="22.8" textLength="20.11" lengthAdjust="spacingAndGlyphs"  >10</text>
<text x="68.93" y="634" font-family='"Liberation Serif", serif' font-size="15.5" textLength="10.92" lengthAdjust="spacingAndGlyphs"  >&#8722;</text>
<text x="79.73" y="632.5" font-family='"Liberation Serif", serif' font-size="15.5" textLength="8.07" lengthAdjust="spacingAndGlyphs"  >3</text>
<text x="49.14" y="725.6" font-family='"Liberation Serif", serif' font-size="22.8" textLength="20.11" lengthAdjust="spacingAndGlyphs"  >10</text>
<text x="68.93" y="719.3" font-family='"Liberation Serif", serif' font-size="15.5" textLength="10.92" lengthAdjust="spacingAndGlyphs"  >&#8722;</text>
<text x="80.21" y="717.8" font-family='"Liberation Serif", serif' font-size="15.5" textLength="7.2" lengthAdjust="spacingAndGlyphs"  >4</text>
<text x="97.53" y="814.9" font-family='"Liberation Serif", serif' font-size="22.8" textLength="10.24" lengthAdjust="spacingAndGlyphs"  >0</text>
<text x="233.53" y="814.9" font-family='"Liberation Serif", serif' font-size="22.8" textLength="20.43" lengthAdjust="spacingAndGlyphs"  >25</text>
<text x="374.61" y="814.9" font-family='"Liberation Serif", serif' font-size="22.8" textLength="20.77" lengthAdjust="spacingAndGlyphs"  >50</text>
<line x1="220" y1="614.2" x2="233.1" y2="614.2" stroke="#FFA500" stroke-width="4.9" stroke-linecap="butt"/>
<text x="244.16" y="619.8" font-family='"Liberation Sans", sans-serif' font-size="16" textLength="94.5" lengthAdjust="spacingAndGlyphs"  >approximation</text>
<line x1="220" y1="631.1" x2="233.1" y2="631.1" stroke="#CD5C5C" stroke-width="4.9" stroke-linecap="butt"/>
<text x="243.78" y="636.9" font-family='"Liberation Sans", sans-serif' font-size="16" textLength="48.09" lengthAdjust="spacingAndGlyphs"  >natural</text>
<text x="296.56" y="636.9" font-family='"Liberation Sans", sans-serif' font-size="16" textLength="54.27" lengthAdjust="spacingAndGlyphs"  >gradient</text>
<line x1="220" y1="648.1" x2="233.1" y2="648.1" stroke="#00008B" stroke-width="4.9" stroke-linecap="butt"/>
<text x="244.4" y="654.1" font-family='"Liberation Sans", sans-serif' font-size="16" textLength="64.05" lengthAdjust="spacingAndGlyphs"  >Euclidean</text>
<text x="313.26" y="654.1" font-family='"Liberation Sans", sans-serif' font-size="16" textLength="54.47" lengthAdjust="spacingAndGlyphs"  >gradient</text>
<text x="109.62" y="600.2" font-family='"Liberation Sans", sans-serif' font-size="34.4" textLength="18.44" lengthAdjust="spacingAndGlyphs"  >E</text>
<g transform="translate(38.2,756.2) rotate(-90)">
<text x="0.28" y="0" font-family='"Liberation Serif", serif' font-size="22" textLength="16.35" lengthAdjust="spacingAndGlyphs" font-style="italic" >D</text>
<text x="17.59" y="5" font-family='"Liberation Serif", serif' font-size="14.5" textLength="19.66" lengthAdjust="spacingAndGlyphs"  >KL</text>
<text x="36.52" y="0" font-family='"Liberation Serif", serif' font-size="24.5" textLength="8.45" lengthAdjust="spacingAndGlyphs"  >(</text>
<text x="46.55" y="0" font-family='"Liberation Serif", serif' font-size="22" textLength="9.62" lengthAdjust="spacingAndGlyphs" font-style="italic" >p</text>
<text x="58.91" y="7.2" font-family='"Liberation Serif", serif' font-size="24" textLength="9.94" lengthAdjust="spacingAndGlyphs"  >*</text>
<rect x="74.4" y="-17.1" width="1.2" height="21.9" fill="#000"/>
<text x="79.75" y="0" font-family='"Liberation Serif", serif' font-size="22" textLength="9.62" lengthAdjust="spacingAndGlyphs" font-style="italic" >p</text>
<text x="88.9" y="4.6" font-family='"Liberation Serif", serif' font-size="15" textLength="12.05" lengthAdjust="spacingAndGlyphs" font-style="italic" font-weight="bold" >w</text>
<text x="101.17" y="0" font-family='"Liberation Serif", serif' font-size="24.5" textLength="8.54" lengthAdjust="spacingAndGlyphs"  >)</text>
</g>
<text x="213.98" y="838.6" font-family='"Liberation Serif", serif' font-size="23" textLength="7.3" lengthAdjust="spacingAndGlyphs" font-style="italic" >t</text>
<text x="229.15" y="838.6" font-family='"Liberation Sans", sans-serif' font-size="21" textLength="41.68" lengthAdjust="spacingAndGlyphs"  >[min]</text>
<clipPath id="clipF"><rect x="499.5" y="605.2" width="283.4" height="183.3"/></clipPath>
<g clip-path="url(#clipF)">
<path d="M499.5,613.4 L502.33,631.95 L505.16,643.77 L507.99,652.96 L510.82,660.33 L513.65,667.15 L516.49,673.86 L519.32,680.71 L522.15,686.87 L524.98,692.33 L527.81,697.19 L530.64,701.48 L533.47,705.82 L536.3,710.31 L539.13,714.9 L541.97,719.47 L544.8,724.06 L547.63,728.36 L550.46,732.42 L553.29,736.35 L556.12,740.14 L558.95,743.9 L561.78,747.69 L564.61,751.36 L567.44,754.69 L570.27,757.53 L573.11,759.98 L575.94,762.04 L578.77,763.69 L581.6,765.27 L584.43,766.57 L587.26,767.78 L590.09,768.67 L592.92,769.68 L595.75,770.59 L598.59,771.37 L601.42,771.79 L604.25,772.2 L607.08,772.69 L609.91,773.04 L612.74,773 L615.57,772.92 L618.4,772.95 L621.23,773.05 L624.06,773.06 L626.89,773.05 L629.73,772.8 L632.56,772.69 L635.39,772.87 L638.22,773.08 L641.05,773.17 L643.88,773.27 L646.71,773.32 L649.54,773.39 L652.37,773.55 L655.21,773.76 L658.04,773.78 L660.87,773.77 L663.7,773.93 L666.53,773.92 L669.36,773.79 L672.19,773.68 L675.02,773.64 L677.85,773.5 L680.68,773.38 L683.51,773.57 L686.35,773.85 L689.18,773.84 L692.01,773.59 L694.84,773.54 L697.67,773.74 L700.5,773.94 L703.33,774.06 L706.16,774.24 L708.99,774.3 L711.83,774.28 L714.66,774.08 L717.49,773.91 L720.32,773.89 L723.15,774.11 L725.98,774.32 L728.81,774.37 L731.64,774.39 L734.47,774.42 L737.3,774.21 L740.13,773.99 L742.97,774 L745.8,774.28 L748.63,774.22 L751.46,774.23 L754.29,774.22 L757.12,774.3 L759.95,774.23 L762.78,774.36 L765.61,774.27 L768.45,774.27 L771.28,774.29 L774.11,774.33 L776.94,774.18 L779.77,773.98 L782.6,773.99" fill="none" stroke="#FFA500" stroke-width="4.9" stroke-linejoin="round" stroke-linecap="butt"/>
<path d="M499.5,613.4 L502.33,629.63 L505.16,639.81 L507.99,648.63 L510.82,656.3 L513.65,663.44 L516.49,670.28 L519.32,677.06 L522.15,684.05 L524.98,691.97 L527.81,698.68 L530.64,705.09 L533.47,711.4 L536.3,717.31 L539.13,722.75 L541.97,727.89 L544.8,732.78 L547.63,737.37 L550.46,741.6 L553.29,745.53 L556.12,749.14 L558.95,752.49 L561.78,755.7 L564.61,758.64 L567.44,761.26 L570.27,763.68 L573.11,765.85 L575.94,767.46 L578.77,768.92 L581.6,770.38 L584.43,771.55 L587.26,772.2 L590.09,772.66 L592.92,773.19 L595.75,773.58 L598.59,773.83 L601.42,774.12 L604.25,774.36 L607.08,774.37 L609.91,774.39 L612.74,774.5 L615.57,774.69 L618.4,774.58 L621.23,774.43 L624.06,774.27 L626.89,774.23 L629.73,774.29 L632.56,774.49 L635.39,774.6 L638.22,774.68 L641.05,774.78 L643.88,774.9 L646.71,774.8 L649.54,774.8 L652.37,774.63 L655.21,774.58 L658.04,774.61 L660.87,774.57 L663.7,774.46 L666.53,774.45 L669.36,774.68 L672.19,774.63 L675.02,774.62 L677.85,774.59 L680.68,774.56 L683.51,774.58 L686.35,774.58 L689.18,774.69 L692.01,774.6 L694.84,774.68 L697.67,774.74 L700.5,774.76 L703.33,774.69 L706.16,774.78 L708.99,774.98 L711.83,774.79 L714.66,774.64 L717.49,774.59 L720.32,774.72 L723.15,774.52 L725.98,774.56 L728.81,774.52 L731.64,774.59 L734.47,774.65 L737.3,774.64 L740.13,774.46 L742.97,774.25 L745.8,774.39 L748.63,774.61 L751.46,774.97 L754.29,774.78 L757.12,774.46 L759.95,774.37 L762.78,774.72 L765.61,774.84 L768.45,774.66 L771.28,774.5 L774.11,774.48 L776.94,774.52 L779.77,774.41 L782.6,774.39" fill="none" stroke="#CD5C5C" stroke-width="4.9" stroke-linejoin="round" stroke-linecap="butt"/>
<path d="M499.5,613.4 L504,646.29 L505.16,648.28 L507.99,653.07 L510.82,657.85 L513.65,662.51 L516.49,667.04 L519.32,671.37 L522.15,675.39 L524.98,679.21 L527.81,682.92 L530.64,686.54 L533.47,690.08 L536.3,693.49 L539.13,696.7 L541.97,699.87 L544.8,702.91 L547.63,705.88 L550.46,708.75 L553.29,711.51 L556.12,713.93 L558.95,716.25 L561.78,718.77 L564.61,721.2 L567.44,723.21 L570.27,725.08 L573.11,727.32 L575.94,729.8 L578.77,731.95 L581.6,733.68 L584.43,735.01 L587.26,736.58 L590.09,738.38 L592.92,740.34 L595.75,742.18 L598.59,743.81 L601.42,745.05 L604.25,746.05 L607.08,747.11 L609.91,747.96 L612.74,748.77 L615.57,750.11 L618.4,751.55 L621.23,752.61 L624.06,753.62 L626.89,754.64 L629.73,755.33 L632.56,756.04 L635.39,757.08 L638.22,757.98 L641.05,758.68 L643.88,759.34 L646.71,759.9 L649.54,760.36 L652.37,760.59 L655.21,760.85 L658.04,761.38 L660.87,762.62 L663.7,763.37 L666.53,763.7 L669.36,763.89 L672.19,764.49 L675.02,765.39 L677.85,765.86 L680.68,765.8 L683.51,766.02 L686.35,766.76 L689.18,767.28 L692.01,767.69 L694.84,768.27 L697.67,768.5 L700.5,768.24 L703.33,768.2 L706.16,768.3 L708.99,768 L711.83,767.79 L714.66,767.88 L717.49,768.55 L720.32,769.04 L723.15,769.62 L725.98,770.07 L728.81,770.59 L731.64,770.82 L734.47,770.75 L737.3,771.24 L740.13,771.67 L742.97,771.14 L745.8,769.92 L748.63,769.54 L751.46,769.88 L754.29,770.44 L757.12,771.15 L759.95,771.95 L762.78,772.2 L765.61,772.08 L768.45,772.15 L771.28,772.4 L774.11,772.96 L776.94,773.25 L779.77,772.82 L782.6,771.97" fill="none" stroke="#00008B" stroke-width="4.9" stroke-linejoin="round" stroke-linecap="butt"/>
</g>
<line x1="499.5" y1="605.15" x2="499.5" y2="789.55" stroke="#000" stroke-width="2.1" stroke-linecap="butt"/>
<line x1="498.45" y1="788.5" x2="783.35" y2="788.5" stroke="#000" stroke-width="2.1" stroke-linecap="butt"/>
<line x1="492.85" y1="632.4" x2="499.5" y2="632.4" stroke="#000" stroke-width="2.1" stroke-linecap="butt"/>
<line x1="492.85" y1="606.72" x2="499.5" y2="606.72" stroke="#000" stroke-width="2.1" stroke-linecap="butt"/>
<line x1="492.85" y1="717.7" x2="499.5" y2="717.7" stroke="#000" stroke-width="2.1" stroke-linecap="butt"/>
<line x1="492.85" y1="692.02" x2="499.5" y2="692.02" stroke="#000" stroke-width="2.1" stroke-linecap="butt"/>
<line x1="492.85" y1="677" x2="499.5" y2="677" stroke="#000" stroke-width="2.1" stroke-linecap="butt"/>
<line x1="492.85" y1="666.34" x2="499.5" y2="666.34" stroke="#000" stroke-width="2.1" stroke-linecap="butt"/>
<line x1="492.85" y1="658.08" x2="499.5" y2="658.08" stroke="#000" stroke-width="2.1" stroke-linecap="butt"/>
<line x1="492.85" y1="651.32" x2="499.5" y2="651.32" stroke="#000" stroke-width="2.1" stroke-linecap="butt"/>
<line x1="492.85" y1="645.61" x2="499.5" y2="645.61" stroke="#000" stroke-width="2.1" stroke-linecap="butt"/>
<line x1="492.85" y1="640.67" x2="499.5" y2="640.67" stroke="#000" stroke-width="2.1" stroke-linecap="butt"/>
<line x1="492.85" y1="636.3" x2="499.5" y2="636.3" stroke="#000" stroke-width="2.1" stroke-linecap="butt"/>
<line x1="492.85" y1="777.32" x2="499.5" y2="777.32" stroke="#000" stroke-width="2.1" stroke-linecap="butt"/>
<line x1="492.85" y1="762.3" x2="499.5" y2="762.3" stroke="#000" stroke-width="2.1" stroke-linecap="butt"/>
<line x1="492.85" y1="751.64" x2="499.5" y2="751.64" stroke="#000" stroke-width="2.1" stroke-linecap="butt"/>
<line x1="492.85" y1="743.38" x2="499.5" y2="743.38" stroke="#000" stroke-width="2.1" stroke-linecap="butt"/>
<line x1="492.85" y1="736.62" x2="499.5" y2="736.62" stroke="#000" stroke-width="2.1" stroke-linecap="butt"/>
<line x1="492.85" y1="730.91" x2="499.5" y2="730.91" stroke="#000" stroke-width="2.1" stroke-linecap="butt"/>
<line x1="492.85" y1="725.97" x2="499.5" y2="725.97" stroke="#000" stroke-width="2.1" stroke-linecap="butt"/>
<line x1="492.85" y1="721.6" x2="499.5" y2="721.6" stroke="#000" stroke-width="2.1" stroke-linecap="butt"/>
<line x1="499.5" y1="788.5" x2="499.5" y2="795.15" stroke="#000" stroke-width="2.1" stroke-linecap="butt"/>
<line x1="641" y1="788.5" x2="641" y2="795.15" stroke="#000" stroke-width="2.1" stroke-linecap="butt"/>
<line x1="782.3" y1="788.5" x2="782.3" y2="795.15" stroke="#000" stroke-width="2.1" stroke-linecap="butt"/>
<text x="445.54" y="640.3" font-family='"Liberation Serif", serif' font-size="22.8" textLength="20.11" lengthAdjust="spacingAndGlyphs"  >10</text>
<text x="465.33" y="634" font-family='"Liberation Serif", serif' font-size="15.5" textLength="10.92" lengthAdjust="spacingAndGlyphs"  >&#8722;</text>
<text x="476.13" y="632.5" font-family='"Liberation Serif", serif' font-size="15.5" textLength="8.07" lengthAdjust="spacingAndGlyphs"  >3</text>
<text x="445.54" y="725.6" font-family='"Liberation Serif", serif' font-size="22.8" textLength="20.11" lengthAdjust="spacingAndGlyphs"  >10</text>
<text x="465.33" y="719.3" font-family='"Liberation Serif", serif' font-size="15.5" textLength="10.92" lengthAdjust="spacingAndGlyphs"  >&#8722;</text>
<text x="476.61" y="717.8" font-family='"Liberation Serif", serif' font-size="15.5" textLength="7.2" lengthAdjust="spacingAndGlyphs"  >4</text>
<text x="493.93" y="814.9" font-family='"Liberation Serif", serif' font-size="22.8" textLength="10.24" lengthAdjust="spacingAndGlyphs"  >0</text>
<text x="629.61" y="814.9" font-family='"Liberation Serif", serif' font-size="22.8" textLength="20.77" lengthAdjust="spacingAndGlyphs"  >50</text>
<text x="765.94" y="814.9" font-family='"Liberation Serif", serif' font-size="22.8" textLength="30.11" lengthAdjust="spacingAndGlyphs"  >100</text>
<line x1="616.4" y1="614.2" x2="629.5" y2="614.2" stroke="#FFA500" stroke-width="4.9" stroke-linecap="butt"/>
<text x="640.56" y="619.8" font-family='"Liberation Sans", sans-serif' font-size="16" textLength="94.5" lengthAdjust="spacingAndGlyphs"  >approximation</text>
<line x1="616.4" y1="631.1" x2="629.5" y2="631.1" stroke="#CD5C5C" stroke-width="4.9" stroke-linecap="butt"/>
<text x="640.18" y="636.9" font-family='"Liberation Sans", sans-serif' font-size="16" textLength="48.09" lengthAdjust="spacingAndGlyphs"  >natural</text>
<text x="692.96" y="636.9" font-family='"Liberation Sans", sans-serif' font-size="16" textLength="54.27" lengthAdjust="spacingAndGlyphs"  >gradient</text>
<line x1="616.4" y1="648.1" x2="629.5" y2="648.1" stroke="#00008B" stroke-width="4.9" stroke-linecap="butt"/>
<text x="640.8" y="654.1" font-family='"Liberation Sans", sans-serif' font-size="16" textLength="64.05" lengthAdjust="spacingAndGlyphs"  >Euclidean</text>
<text x="709.66" y="654.1" font-family='"Liberation Sans", sans-serif' font-size="16" textLength="54.47" lengthAdjust="spacingAndGlyphs"  >gradient</text>
<text x="505.51" y="600.3" font-family='"Liberation Sans", sans-serif' font-size="34.4" textLength="17.7" lengthAdjust="spacingAndGlyphs"  >F</text>
<text x="610.28" y="838.6" font-family='"Liberation Serif", serif' font-size="23" textLength="7.3" lengthAdjust="spacingAndGlyphs" font-style="italic" >t</text>
<text x="625.45" y="838.6" font-family='"Liberation Sans", sans-serif' font-size="21" textLength="41.68" lengthAdjust="spacingAndGlyphs"  >[min]</text>
</svg>
</body></html>
